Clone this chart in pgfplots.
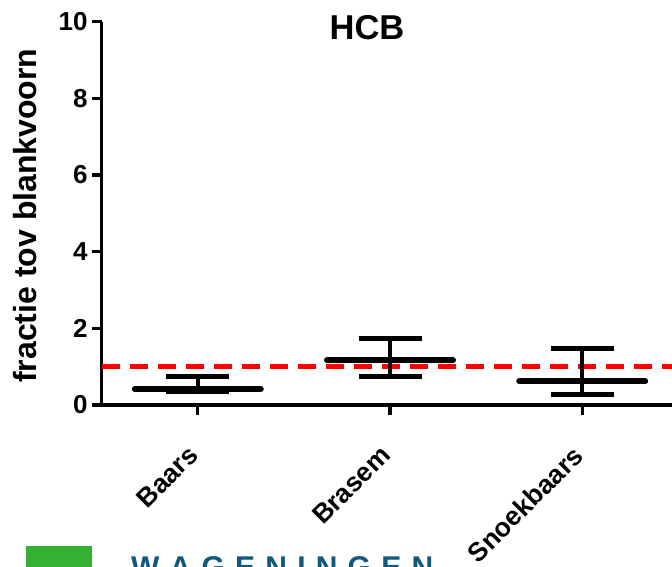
\documentclass[border=0pt]{standalone}
\usepackage{fontspec}
\setmainfont{Liberation Sans}
\usepackage{pgfplots}
\pgfplotsset{compat=1.18}
\usepackage{pgfplotstable}

\definecolor{refred}{RGB}{255,0,0}
\definecolor{wurgreen}{RGB}{52,176,52}
\definecolor{wurblue}{RGB}{18,88,120}

% mean and asymmetric error (upper / lower) per species
\pgfplotstableread{
x  mean   plus   minus
0  0.417  0.323  0.067
1  1.166  0.574  0.426
2  0.617  0.870  0.347
}\hcbdata

\begin{document}
\begin{tikzpicture}
\begin{axis}[
  at={(101.7pt,161pt)}, anchor=south west,
  scale only axis, width=576.6pt, height=383.3pt,
  xmin=-0.5, xmax=2.5, ymin=0, ymax=10,
  axis x line*=bottom, axis y line*=left,
  axis line style={line width=3.3pt, -},
  xtick={0,1,2}, xticklabels={Baars,Brasem,Snoekbaars},
  ytick={0,2,...,10},
  tick align=outside, major tick length=10pt,
  tick style={line width=3.3pt, black},
  /pgf/number format/assume math mode=true,
  yticklabel style={font=\fontsize{26}{30}\selectfont\bfseries, inner sep=0pt, xshift=-4pt},
  xticklabel style={font=\fontsize{26.5}{30}\selectfont\bfseries, xshift=-11pt, yshift=-29pt,
    rotate=45, anchor=north east, inner sep=0pt},
  ylabel={fractie tov blankvoorn},
  every axis y label/.style={at={(axis description cs:-0.1127,0.4941)}, rotate=90, anchor=base,
    font=\fontsize{32}{38}\selectfont\bfseries},
  title={HCB},
  every axis title/.style={at={(axis description cs:0.4601,0.954)}, anchor=base,
    font=\fontsize{34.5}{40}\selectfont\bfseries},
  clip=false,
]
% reference level
\addplot[refred, line width=5pt, dash pattern=on 18pt off 10pt, forget plot]
  coordinates {(-0.5,1) (2.5,1)};
% means with error bars
\addplot[black, only marks, mark=-, mark size=63pt,
  mark options={line width=6pt, line cap=round},
  error bars/.cd, y dir=both, y explicit,
  error bar style={line width=3.8pt},
  error mark options={rotate=90, line width=5pt, mark size=31.5pt}]
  table[x=x, y=mean, y error plus=plus, y error minus=minus] {\hcbdata};
\end{axis}

% logo strip along the bottom
\fill[wurgreen] (25.7pt,-5pt) rectangle (91.7pt,20pt);
\node[anchor=base west, inner sep=0pt, text=wurblue, font=\fontsize{30}{36}\selectfont\bfseries]
  at (131pt,-11.5pt) {\makebox[302pt][s]{W\hfill A\hfill G\hfill E\hfill N\hfill I\hfill N\hfill G\hfill E\hfill N}};

\pgfresetboundingbox
\path[use as bounding box] (0,0) rectangle (672pt,566pt);
\end{tikzpicture}
\end{document}
